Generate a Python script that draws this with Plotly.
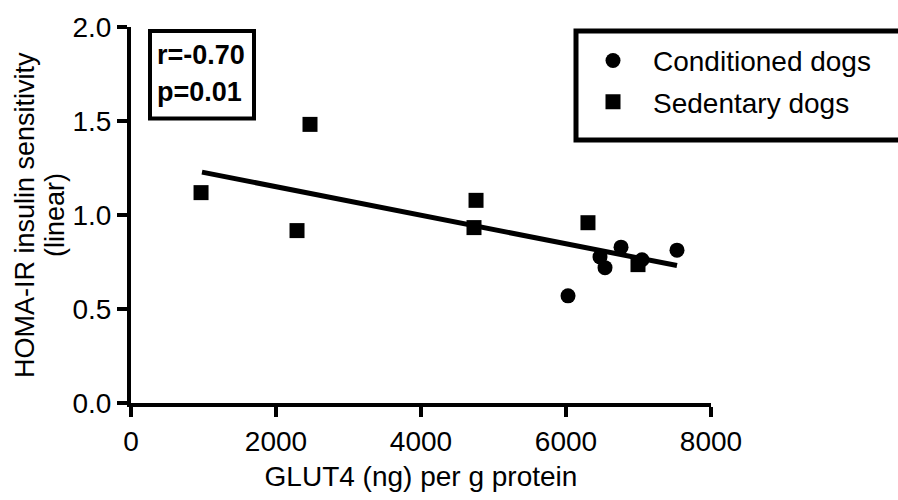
import plotly.graph_objects as go

# Data
cond_x = [6028, 6469, 6538, 6759, 7048, 7531]
cond_y = [0.570, 0.777, 0.720, 0.829, 0.762, 0.813]
sed_x = [966, 2290, 2469, 4759, 4731, 6303, 6993]
sed_y = [1.119, 0.917, 1.482, 1.078, 0.933, 0.959, 0.736]
fit_x = [979, 7531]
fit_y = [1.228, 0.731]
x_ticks = [0, 2000, 4000, 6000, 8000]
y_ticks = [0.0, 0.5, 1.0, 1.5, 2.0]
y_tick_labels = ["0.0", "0.5", "1.0", "1.5", "2.0"]

FONT = "Arial, Liberation Sans, Helvetica, sans-serif"
FS = 28

L, R, T, B = 131, 711, 18, 404
W, H = R - L, B - T


def px(x):
    return (x - L) / W


def py(y):
    return (B - y) / H


fig = go.Figure()
fig.add_trace(go.Scatter(x=fit_x, y=fit_y, mode="lines",
                         line=dict(color="black", width=5),
                         showlegend=False, hoverinfo="skip", cliponaxis=False))
fig.add_trace(go.Scatter(x=cond_x, y=cond_y, mode="markers", name="Conditioned dogs",
                         legendgroup="a",
                         marker=dict(symbol="circle", size=15, color="black"),
                         cliponaxis=False))
fig.add_trace(go.Scatter(x=sed_x, y=sed_y, mode="markers", name="Sedentary dogs",
                         legendgroup="b",
                         marker=dict(symbol="square", size=15, color="black"),
                         cliponaxis=False))

fig.update_layout(
    width=898, height=500,
    margin=dict(l=L, r=898 - R, t=T, b=500 - B),
    paper_bgcolor="white", plot_bgcolor="white",
    font=dict(family=FONT, size=FS, color="black"),
    legend=dict(x=px(573), y=py(27), xanchor="left", yanchor="top",
                bgcolor="rgba(0,0,0,0)", borderwidth=0,
                font=dict(size=FS), tracegroupgap=2, itemwidth=70),
    xaxis=dict(range=[0, 8000], tickvals=x_ticks, ticktext=[str(v) for v in x_ticks],
               showgrid=False, zeroline=False, showline=True, linecolor="black",
               linewidth=4, ticks="outside", ticklen=10, tickwidth=4,
               tickcolor="black", tickfont=dict(size=FS),
               title=dict(text="GLUT4 (ng) per g protein", font=dict(size=FS), standoff=12)),
    yaxis=dict(range=[0, 2], tickvals=y_ticks, ticktext=y_tick_labels,
               showgrid=False, zeroline=False, showline=True, linecolor="black",
               linewidth=4, ticks="outside", ticklen=10, tickwidth=4,
               tickcolor="black", tickfont=dict(size=FS)),
)

# Y axis title, two lines
fig.add_annotation(xref="paper", yref="paper", x=px(25), y=py(211),
                   text="HOMA-IR insulin sensitivity", textangle=-90, showarrow=False,
                   font=dict(size=27, family=FONT), xanchor="center", yanchor="middle")
fig.add_annotation(xref="paper", yref="paper", x=px(55), y=py(211),
                   text="(linear)", textangle=-90, showarrow=False,
                   font=dict(size=27, family=FONT), xanchor="center", yanchor="middle")

# Legend frame (extends past the right edge as in the reference)
fig.add_shape(type="rect", xref="paper", yref="paper",
              x0=px(576), x1=1.6, y0=py(134), y1=py(22),
              line=dict(color="black", width=5), fillcolor="rgba(0,0,0,0)")

# Stats box
fig.add_shape(type="rect", xref="paper", yref="paper",
              x0=px(150), x1=px(254), y0=py(112), y1=py(22),
              line=dict(color="black", width=4), fillcolor="rgba(0,0,0,0)")
fig.add_annotation(xref="paper", yref="paper", x=px(155), y=py(47),
                   text="<b>r=-0.70</b>", showarrow=False,
                   font=dict(size=27, family=FONT), xanchor="left", yanchor="middle")
fig.add_annotation(xref="paper", yref="paper", x=px(155), y=py(85),
                   text="<b>p=0.01</b>", showarrow=False,
                   font=dict(size=27, family=FONT), xanchor="left", yanchor="middle")

fig.write_html("out.html")
